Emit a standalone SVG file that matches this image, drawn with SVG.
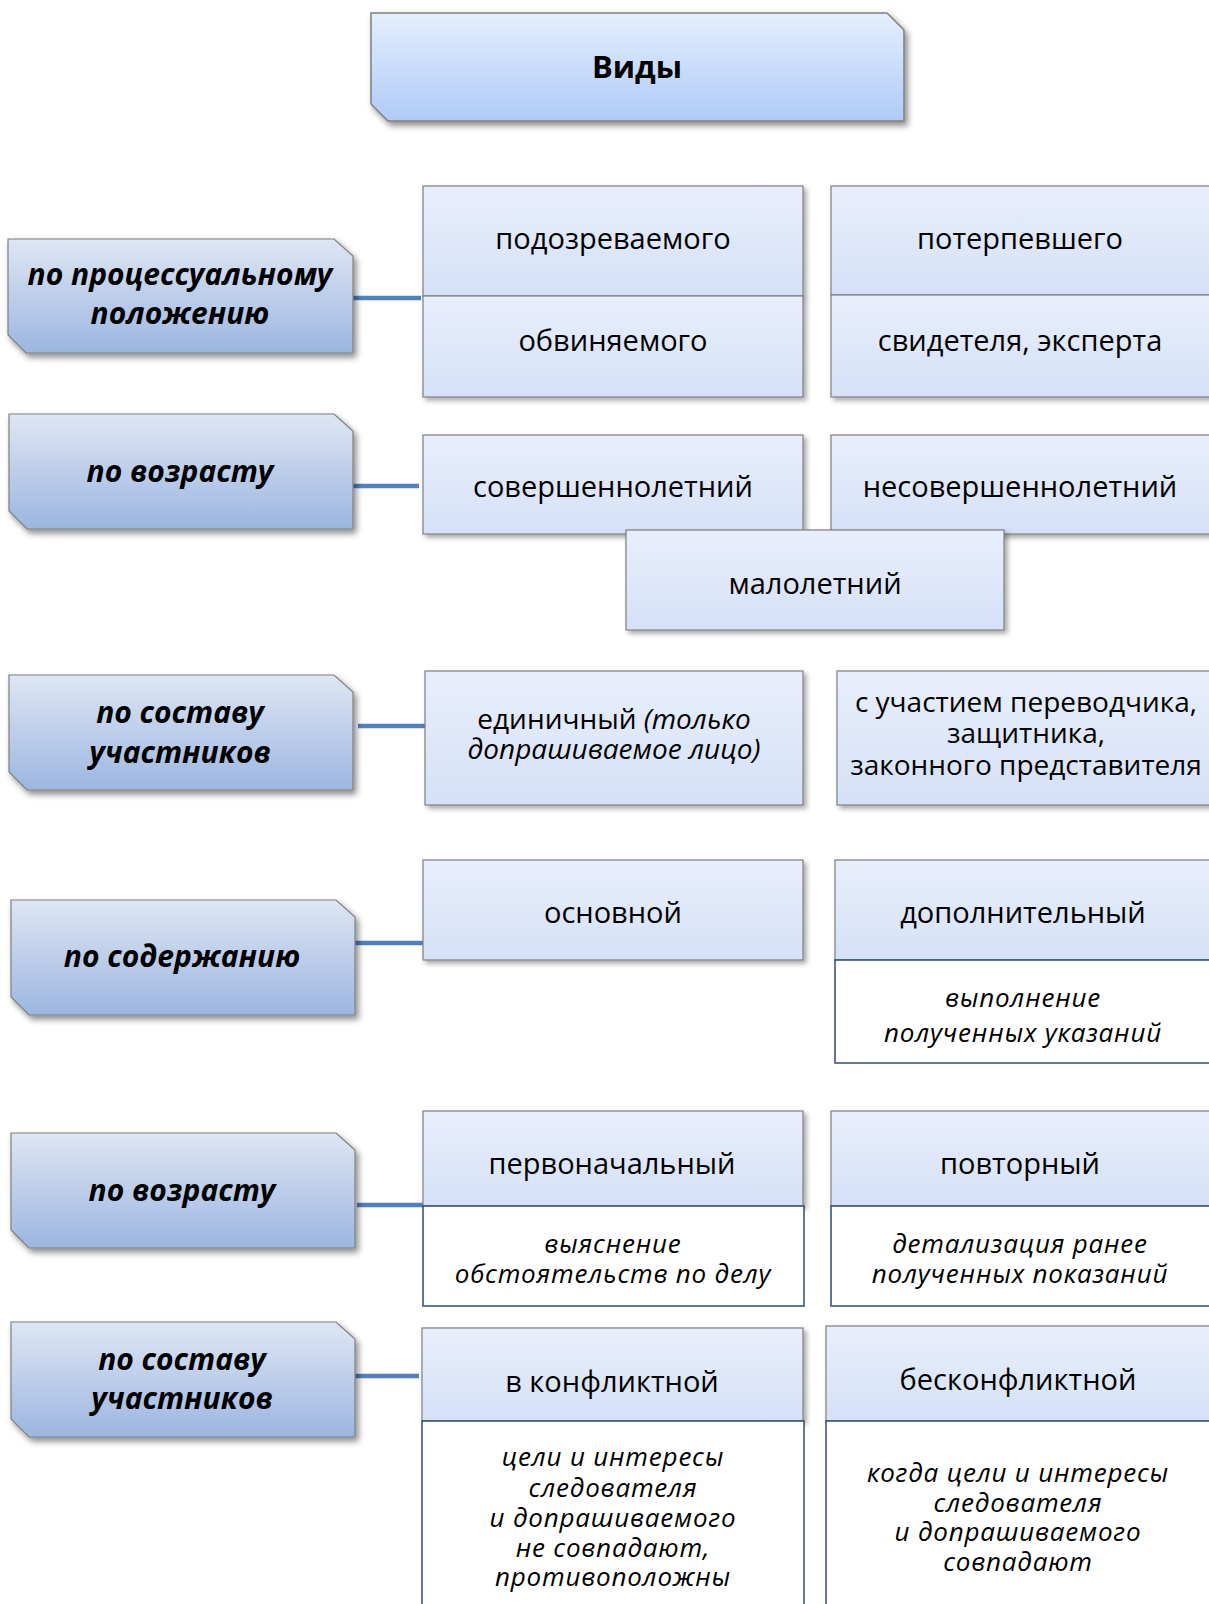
<svg xmlns="http://www.w3.org/2000/svg" width="1209" height="1604" viewBox="0 0 1209 1604">
<defs>
<linearGradient id="gTop" x1="0" y1="0" x2="0" y2="1"><stop offset="0" stop-color="#e4effd"/><stop offset="1" stop-color="#afcbf7"/></linearGradient>
<linearGradient id="gCat" x1="0" y1="0" x2="0" y2="1"><stop offset="0" stop-color="#dfe6f4"/><stop offset="1" stop-color="#9cb6e0"/></linearGradient>
<linearGradient id="gBox" x1="0" y1="0" x2="0" y2="1"><stop offset="0" stop-color="#e9eefb"/><stop offset="1" stop-color="#d5e1f8"/></linearGradient>
<filter id="sh" x="-10%" y="-10%" width="125%" height="130%"><feDropShadow dx="3" dy="4" stdDeviation="3" flood-color="#000" flood-opacity="0.45"/></filter>
<filter id="sh2" x="-10%" y="-10%" width="125%" height="130%"><feDropShadow dx="3" dy="3" stdDeviation="2.5" flood-color="#000" flood-opacity="0.35"/></filter>
</defs>
<style>
.cat{fill:url(#gCat);stroke:#7f7f7f;stroke-width:1.2;filter:url(#sh)}
.top{fill:url(#gTop);stroke:#7f7f7f;stroke-width:1.5;filter:url(#sh)}
.box{fill:url(#gBox);stroke:#7f7f7f;stroke-width:1.2;filter:url(#sh2)}
.wb{fill:#ffffff;stroke:#2e4a78;stroke-width:1.5}
.ct{font-family:"Open Sans","Noto Sans",sans-serif;font-weight:bold;font-style:italic;font-size:30px;fill:#000;text-anchor:middle}
.t{font-family:"Open Sans","Noto Sans",sans-serif;font-size:29px;fill:#000;text-anchor:middle}
.tm{font-family:"Open Sans","Noto Sans",sans-serif;font-size:28px;fill:#000;text-anchor:middle}
.ti{font-family:"Open Sans","Noto Sans",sans-serif;font-style:italic;font-size:26px;letter-spacing:0.8px;fill:#000;text-anchor:middle}
.conn{stroke:#4f81bd;stroke-width:4.5;fill:none}
</style>

<g id="connectors">
<line class="conn" x1="353" y1="298" x2="421" y2="298"/>
<line class="conn" x1="353" y1="486" x2="419" y2="486"/>
<line class="conn" x1="358" y1="726" x2="425" y2="726"/>
<line class="conn" x1="355" y1="943" x2="423" y2="943"/>
<line class="conn" x1="357" y1="1205" x2="423" y2="1205"/>
<line class="conn" x1="353" y1="1376" x2="419" y2="1376"/>
</g>

<g id="vidy">
<polygon class="top" points="371,13 887,13 904,30 904,121 388,121 371,104"/>
<text x="637" y="78" style="font-family:'Open Sans','Noto Sans',sans-serif;font-weight:bold;font-size:31px;text-anchor:middle">Виды</text>
</g>

<g id="cat1">
<polygon class="cat" points="8,239 334,239 353,256 353,353 26,353 8,335"/>
<text class="ct" x="180" y="285">по процессуальному</text>
<text class="ct" x="180" y="324">положению</text>
</g>
<g id="cat2">
<polygon class="cat" points="9,414 334,414 353,431 353,529 27,529 9,511"/>
<text class="ct" x="180" y="482">по возрасту</text>
</g>
<g id="cat3">
<polygon class="cat" points="9,675 334,675 353,692 353,790 27,790 9,772"/>
<text class="ct" x="180" y="723">по составу</text>
<text class="ct" x="180" y="763">участников</text>
</g>
<g id="cat4">
<polygon class="cat" points="11,900 336,900 355,917 355,1015 29,1015 11,997"/>
<text class="ct" x="182" y="967">по содержанию</text>
</g>
<g id="cat5">
<polygon class="cat" points="11,1133 336,1133 355,1150 355,1248 29,1248 11,1230"/>
<text class="ct" x="182" y="1201">по возрасту</text>
</g>
<g id="cat6">
<polygon class="cat" points="11,1322 336,1322 355,1339 355,1437 29,1437 11,1419"/>
<text class="ct" x="182" y="1370">по составу</text>
<text class="ct" x="182" y="1409">участников</text>
</g>

<g id="podozr"><rect class="box" x="423" y="186" width="380" height="110"/><text class="t" x="613" y="249">подозреваемого</text></g>
<g id="obvin"><rect class="box" x="423" y="296" width="380" height="101"/><text class="t" x="613" y="351">обвиняемого</text></g>
<g id="poterp"><rect class="box" x="831" y="186" width="385" height="109"/><text class="t" x="1020" y="249">потерпевшего</text></g>
<g id="svid"><rect class="box" x="831" y="295" width="385" height="102"/><text class="t" x="1020" y="351">свидетеля, эксперта</text></g>

<g id="sover"><rect class="box" x="423" y="435" width="380" height="99"/><text class="t" x="613" y="497">совершеннолетний</text></g>
<g id="nesover"><rect class="box" x="831" y="435" width="385" height="99"/><text class="t" x="1020" y="497">несовершеннолетний</text></g>
<g id="malol"><rect class="box" x="626" y="530" width="378" height="100"/><text class="t" x="815" y="594">малолетний</text></g>

<g id="edin"><rect class="box" x="425" y="671" width="378" height="134"/>
<text class="tm" x="614" y="729">единичный <tspan font-style="italic">(только</tspan></text>
<text class="tm" x="614" y="759" font-style="italic">допрашиваемое лицо)</text></g>
<g id="suchast"><rect class="box" x="837" y="671" width="379" height="134"/>
<text class="tm" x="1026" y="712">с участием переводчика,</text>
<text class="tm" x="1026" y="743">защитника,</text>
<text class="tm" x="1026" y="775">законного представителя</text></g>

<g id="osnov"><rect class="box" x="423" y="860" width="380" height="100"/><text class="t" x="613" y="923">основной</text></g>
<g id="dopoln"><rect class="box" x="835" y="860" width="381" height="100"/><text class="t" x="1023" y="923">дополнительный</text>
<rect class="wb" x="835" y="960" width="381" height="103"/>
<text class="ti" x="1023" y="1007">выполнение</text>
<text class="ti" x="1023" y="1042">полученных указаний</text></g>

<g id="pervon"><rect class="box" x="423" y="1111" width="380" height="95"/><text class="t" x="612" y="1174">первоначальный</text>
<rect class="wb" x="423" y="1206" width="381" height="100"/>
<text class="ti" x="613" y="1253">выяснение</text>
<text class="ti" x="613" y="1283">обстоятельств по делу</text></g>
<g id="povtor"><rect class="box" x="831" y="1111" width="385" height="95"/><text class="t" x="1020" y="1174">повторный</text>
<rect class="wb" x="831" y="1206" width="385" height="100"/>
<text class="ti" x="1020" y="1253">детализация ранее</text>
<text class="ti" x="1020" y="1283">полученных показаний</text></g>

<g id="konfl"><rect class="box" x="422" y="1328" width="381" height="93"/><text class="t" x="612" y="1392">в конфликтной</text>
<rect class="wb" x="422" y="1421" width="382" height="200"/>
<text class="ti" x="613" y="1466">цели и интересы</text>
<text class="ti" x="613" y="1497">следователя</text>
<text class="ti" x="613" y="1527">и допрашиваемого</text>
<text class="ti" x="613" y="1557">не совпадают,</text>
<text class="ti" x="613" y="1586">противоположны</text></g>
<g id="beskonfl"><rect class="box" x="826" y="1326" width="390" height="95"/><text class="t" x="1018" y="1390">бесконфликтной</text>
<rect class="wb" x="826" y="1421" width="390" height="200"/>
<text class="ti" x="1018" y="1482">когда цели и интересы</text>
<text class="ti" x="1018" y="1512">следователя</text>
<text class="ti" x="1018" y="1541">и допрашиваемого</text>
<text class="ti" x="1018" y="1571">совпадают</text></g>
</svg>
